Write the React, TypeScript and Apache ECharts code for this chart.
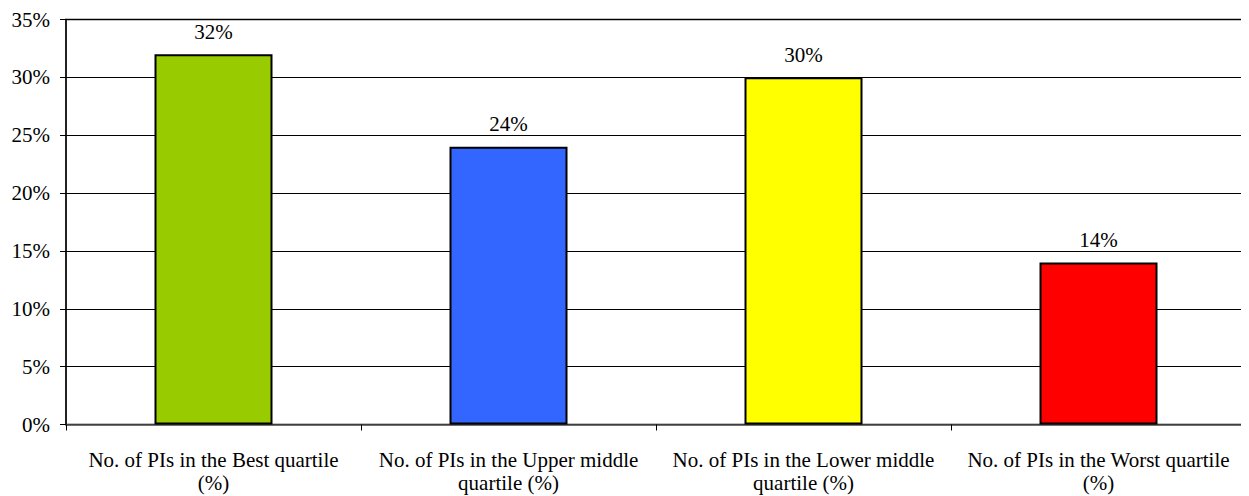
import React, { useEffect, useRef } from "react";
import * as echarts from "echarts";

const categories = [
  "No. of PIs in the Best quartile\n(%)",
  "No. of PIs in the Upper middle\nquartile (%)",
  "No. of PIs in the Lower middle\nquartile (%)",
  "No. of PIs in the Worst quartile\n(%)",
];
const values = [32, 24, 30, 14];
const barColors = ["#99CC00", "#3366FF", "#FFFF00", "#FF0000"];

export default function App() {
  const ref = useRef<HTMLDivElement>(null);
  useEffect(() => {
    if (!ref.current) return;
    const chart = echarts.init(ref.current, null, { renderer: "svg" });
    const font = "Liberation Serif";
    chart.setOption({
      animation: false,
      textStyle: { fontFamily: font },
      grid: {
        left: 58,
        top: 11.5,
        width: 1180,
        height: 405,
        containLabel: false,
        outerBoundsMode: "none",
        show: true,
        borderColor: "#888888",
        borderWidth: 2,
        backgroundColor: "transparent",
      },
      xAxis: {
        type: "category",
        data: categories,
        axisLine: { show: true, lineStyle: { color: "#555555", width: 1.5 } },
        axisTick: { show: true, length: 6, alignWithLabel: false, lineStyle: { color: "#000" } },
        axisLabel: {
          color: "#000",
          fontSize: 21,
          fontFamily: font,
          lineHeight: 23,
          margin: 24,
          interval: 0,
        },
      },
      yAxis: {
        type: "value",
        min: 0,
        max: 35,
        interval: 5,
        axisLine: { show: true, lineStyle: { color: "#000", width: 1.5 } },
        axisTick: { show: true, length: 6, lineStyle: { color: "#000" } },
        splitLine: { show: true, lineStyle: { color: "#000", width: 1 } },
        axisLabel: {
          color: "#000",
          fontSize: 21,
          fontFamily: font,
          margin: 16,
          formatter: (v: number) => v + "%",
        },
      },
      series: [
        {
          type: "bar",
          barWidth: "40%",
          data: values.map((v, i) => ({
            value: v,
            itemStyle: { color: barColors[i], borderColor: "#000", borderWidth: 2 },
          })),
          label: {
            show: true,
            position: "top",
            distance: 12,
            color: "#000",
            fontSize: 21,
            fontFamily: font,
            formatter: (p: any) => p.value + "%",
          },
        },
      ],
    });
    return () => chart.dispose();
  }, []);
  return <div ref={ref} style={{ width: 1233, height: 488 }} />;
}
